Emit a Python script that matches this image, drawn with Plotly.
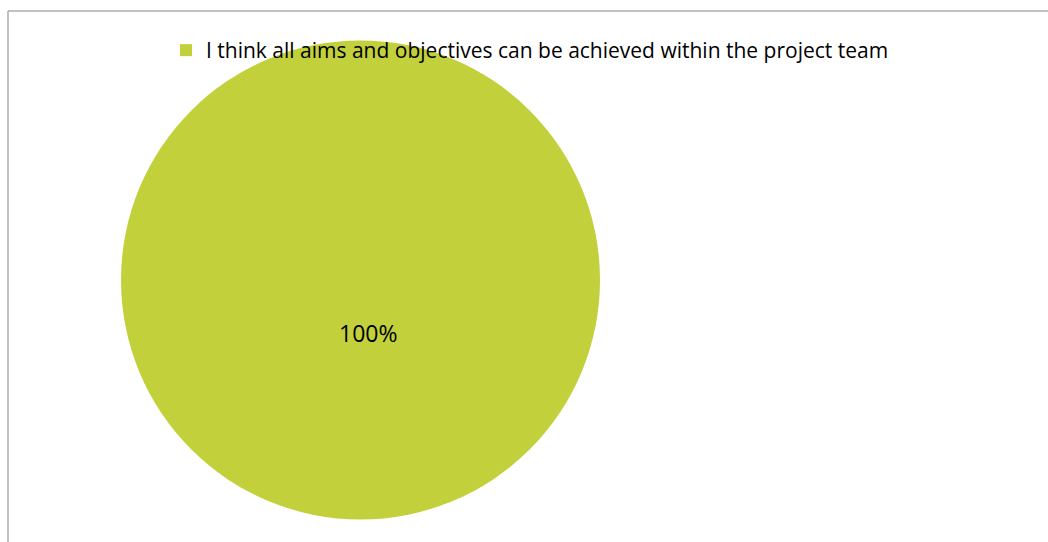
import plotly.graph_objects as go

labels = ["I think all aims and objectives can be achieved within the project team"]
values = [100]
colors = ["#C2D13B"]

W, H = 1048, 542

total = sum(values)
pct_text = [f"{v / total * 100:.0f}%" for v in values]

fig = go.Figure(go.Pie(
    labels=labels,
    values=values,
    marker=dict(colors=colors, line=dict(width=0)),
    textinfo="none",
    sort=False,
    hoverinfo="label+percent",
    domain=dict(x=[121 / W, 600 / W], y=[1 - 520 / H, 1 - 40 / H]),
))

fig.update_layout(
    width=W, height=H,
    margin=dict(l=0, r=0, t=0, b=0),
    paper_bgcolor="white",
    plot_bgcolor="white",
    showlegend=True,
    legend=dict(
        orientation="h",
        x=166 / W, xanchor="left",
        y=1 - 30 / H, yanchor="top",
        font=dict(family="Open Sans", size=21, color="#000000"),
        bgcolor="rgba(0,0,0,0)",
    ),
    annotations=[
        dict(text=pct_text[0], x=368 / W, y=1 - 333 / H, xref="paper", yref="paper",
             showarrow=False, font=dict(family="Open Sans", size=23, color="#000000"),
             xanchor="center", yanchor="middle"),
    ],
    shapes=[
        dict(type="line", xref="paper", yref="paper", x0=8 / W, x1=8 / W, y0=-0.02, y1=1 - 11 / H,
             line=dict(color="#ADADAD", width=1.5)),
        dict(type="line", xref="paper", yref="paper", x0=8 / W, x1=1.02, y0=1 - 11 / H, y1=1 - 11 / H,
             line=dict(color="#ADADAD", width=1.5)),
    ],
)

fig.write_html("out.html", config={"displayModeBar": False},
               post_script="document.body.style.margin='0';")
